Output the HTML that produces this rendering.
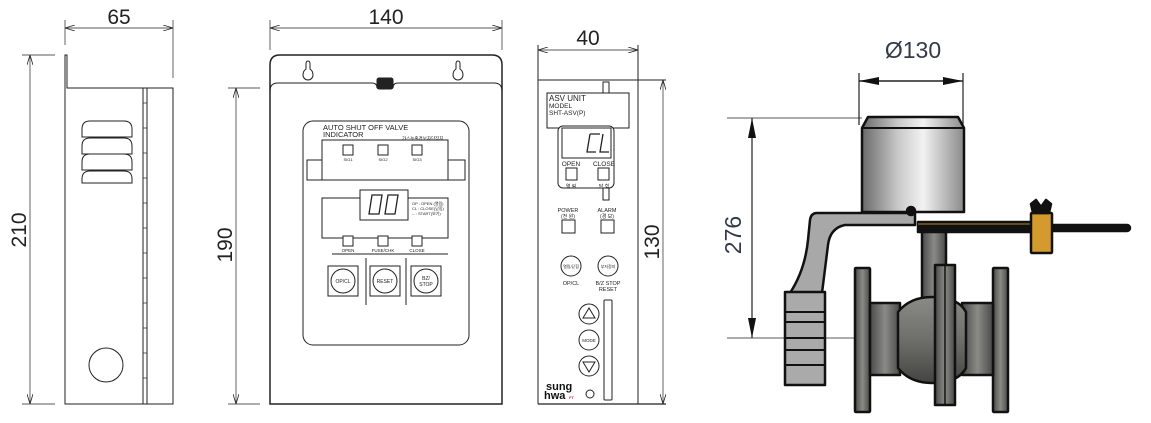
<!DOCTYPE html>
<html><head><meta charset="utf-8"><style>
html,body{margin:0;padding:0;background:#fff;}
svg{display:block;}
text{font-family:"Liberation Sans","Noto Sans CJK KR",sans-serif;fill:#222;}
</style></head><body>
<svg width="1151" height="423" viewBox="0 0 1151 423" xmlns="http://www.w3.org/2000/svg">
<defs>
<marker id="a" viewBox="0 0 10 6" refX="10" refY="3" markerWidth="10" markerHeight="6" orient="auto-start-reverse" markerUnits="userSpaceOnUse"><path d="M0,0 L10,3 L0,6" fill="none" stroke="#222" stroke-width="0.8"/></marker>
<marker id="b" viewBox="0 0 20 8" refX="20" refY="4" markerWidth="20" markerHeight="8" orient="auto-start-reverse" markerUnits="userSpaceOnUse"><path d="M0,0 L20,4 L0,8 Z" fill="#111"/></marker>
<linearGradient id="cyl" x1="0" x2="1" y1="0" y2="0"><stop offset="0" stop-color="#6a6a6a"/><stop offset="0.35" stop-color="#c8c8c8"/><stop offset="0.6" stop-color="#f2f2f2"/><stop offset="1" stop-color="#8a8a8a"/></linearGradient>
<linearGradient id="met" x1="0" x2="1"><stop offset="0" stop-color="#4a4a4a"/><stop offset="0.5" stop-color="#8a8a86"/><stop offset="1" stop-color="#4a4a4a"/></linearGradient>
<linearGradient id="ball" x1="0" x2="0" y1="0" y2="1"><stop offset="0" stop-color="#8a8a86"/><stop offset="0.5" stop-color="#6e6e6a"/><stop offset="1" stop-color="#444442"/></linearGradient>
</defs>
<g fill="none" stroke="#222" stroke-width="1">
<!-- SIDE VIEW -->
<line x1="65" y1="20" x2="65" y2="45" stroke-width="0.7"/>
<line x1="173" y1="20" x2="173" y2="78" stroke-width="0.7"/>
<line x1="65" y1="28" x2="173" y2="28" stroke-width="0.7" marker-start="url(#a)" marker-end="url(#a)"/>
<line x1="22" y1="55" x2="55" y2="55" stroke-width="0.7"/>
<line x1="22" y1="404" x2="55" y2="404" stroke-width="0.7"/>
<line x1="30" y1="55" x2="30" y2="404" stroke-width="0.7" marker-start="url(#a)" marker-end="url(#a)"/>
<path d="M65,55 V404 H173 V88 H67 V55 Z"/>
<line x1="143" y1="88" x2="143" y2="404"/>
<line x1="147" y1="88" x2="147" y2="404"/>
<g stroke-width="0.7">
<line x1="143" y1="103" x2="147" y2="103"/><line x1="143" y1="128" x2="147" y2="128"/><line x1="143" y1="153" x2="147" y2="153"/><line x1="143" y1="178" x2="147" y2="178"/><line x1="143" y1="203" x2="147" y2="203"/><line x1="143" y1="228" x2="147" y2="228"/><line x1="143" y1="253" x2="147" y2="253"/><line x1="143" y1="278" x2="147" y2="278"/><line x1="143" y1="303" x2="147" y2="303"/><line x1="143" y1="328" x2="147" y2="328"/><line x1="143" y1="353" x2="147" y2="353"/><line x1="143" y1="378" x2="147" y2="378"/>
</g>
<path d="M82,137 V129 Q82,121 90,121 H124 Q132,121 132,129 V137 Z"/>
<path d="M82,154 V146 Q82,138 90,138 H124 Q132,138 132,146 V154 Z"/>
<path d="M82,170 V162 Q82,154 90,154 H124 Q132,154 132,162 V170 Z"/>
<path d="M82,183 V179 Q82,171 90,171 H124 Q132,171 132,179 V183 Z"/>
<circle cx="106" cy="365" r="17"/>
<!-- 190 dim -->
<line x1="228" y1="88" x2="260" y2="88" stroke-width="0.7"/>
<line x1="228" y1="404" x2="260" y2="404" stroke-width="0.7"/>
<line x1="236" y1="88" x2="236" y2="404" stroke-width="0.7" marker-start="url(#a)" marker-end="url(#a)"/>
<!-- FRONT -->
<line x1="270" y1="20" x2="270" y2="50" stroke-width="0.7"/>
<line x1="502" y1="20" x2="502" y2="50" stroke-width="0.7"/>
<line x1="270" y1="28" x2="502" y2="28" stroke-width="0.7" marker-start="url(#a)" marker-end="url(#a)"/>
<path d="M270,404 V65 Q270,55 280,55 H492 Q502,55 502,65 V404 Z" stroke-width="1.5"/>
<path d="M270,91 Q270,83 278,83 H372 Q377,83 377,88"/>
<path d="M502,91 Q502,83 494,83 H398 Q393,83 393,88"/>
<rect x="377" y="78" width="16" height="11" fill="#222" rx="2"/>
<path d="M308,61 Q306,61 306,64 V69 Q303,71 303,75 A5,5 0 0 0 313,75 Q313,71 310,69 V64 Q310,61 308,61 Z"/>
<path d="M458,61 Q456,61 456,64 V69 Q453,71 453,75 A5,5 0 0 0 463,75 Q463,71 460,69 V64 Q460,61 458,61 Z"/>
<rect x="303" y="121" width="166" height="224" rx="10"/>
<rect x="322" y="140" width="126" height="40"/>
<rect x="307" y="160" width="15" height="20"/>
<rect x="448" y="160" width="17" height="20"/>
<rect x="343" y="145" width="10" height="10"/><rect x="378" y="145" width="10" height="10"/><rect x="412" y="145" width="10" height="10"/>
<rect x="322" y="198" width="126" height="40"/>
<rect x="360" y="190" width="48" height="30" fill="#fff"/>
<rect x="343" y="236" width="10" height="10" fill="#fff"/><rect x="378" y="236" width="10" height="10" fill="#fff"/><rect x="412" y="236" width="10" height="10" fill="#fff"/>
<line x1="332" y1="254" x2="448" y2="254"/>
<line x1="366" y1="258" x2="366" y2="305"/><line x1="406" y1="258" x2="406" y2="305"/>
<rect x="328" y="266" width="30" height="30"/><circle cx="343" cy="281" r="12"/>
<rect x="370" y="266" width="30" height="30"/><circle cx="385" cy="281" r="12"/>
<rect x="411" y="266" width="30" height="30"/><circle cx="426" cy="281" r="12"/>
<g stroke-width="1.3"><path d="M372,195 H382 L379,214 H369 Z"/><path d="M388,195 H398 L395,214 H385 Z"/></g>
<!-- ASV UNIT -->
<line x1="538" y1="45" x2="538" y2="404"/>
<line x1="638" y1="45" x2="638" y2="404"/>
<line x1="538" y1="50" x2="638" y2="50" stroke-width="0.7" marker-start="url(#a)" marker-end="url(#a)"/>
<line x1="538" y1="80" x2="666" y2="80"/>
<line x1="538" y1="404" x2="666" y2="404" stroke-width="1.3"/>
<line x1="663" y1="80" x2="663" y2="404" stroke-width="0.7" marker-start="url(#a)" marker-end="url(#a)"/>
<rect x="603" y="82" width="6" height="12"/>
<rect x="547" y="93" width="82" height="35" fill="#fff"/>
<rect x="558" y="126" width="56" height="62" rx="5" fill="#fff"/>
<rect x="562" y="128" width="49" height="30"/>
<g stroke-width="1.3"><path d="M590,134 H600 M590,134 L587,152 H596"/><path d="M603,134 L600,152 H609"/></g>
<rect x="566" y="168" width="11" height="12"/><rect x="598" y="168" width="11" height="12"/>
<rect x="603" y="188" width="6" height="12"/>
<rect x="562" y="220" width="13" height="13"/><rect x="601" y="220" width="13" height="13"/>
<circle cx="571" cy="266" r="10"/><circle cx="608" cy="266" r="10"/>
<rect x="604" y="300" width="8" height="100" rx="1"/>
<circle cx="589" cy="314" r="10"/><path d="M583,318 L589,308 L595,318 Z"/>
<circle cx="589" cy="340" r="10"/>
<circle cx="589" cy="366" r="10"/><path d="M583,362 L589,372 L595,362 Z"/>
<circle cx="590" cy="394" r="4"/>
<!-- VALVE dims -->
<line x1="859" y1="73" x2="859" y2="125" stroke-width="1.2"/>
<line x1="963" y1="73" x2="963" y2="125" stroke-width="1.2"/>
<line x1="859" y1="81" x2="963" y2="81" stroke-width="1.5" marker-start="url(#b)" marker-end="url(#b)"/>
<line x1="727" y1="118" x2="862" y2="118" stroke-width="0.8"/>
<line x1="727" y1="338" x2="856" y2="338" stroke-width="0.8"/>
<line x1="752" y1="118" x2="752" y2="338" stroke-width="1.2" marker-start="url(#b)" marker-end="url(#b)"/>
</g>
<!-- valve graphic -->
<g stroke="#111" stroke-width="2.5" stroke-linejoin="round">
<path d="M862,128 L868,117 H958 L964,128 V212 H862 Z" fill="url(#cyl)"/>
<line x1="862" y1="128" x2="964" y2="128" stroke-width="2"/>
<path d="M817,213 H915 V225 H845 Q830,228 828,245 L822,293 H790 Q805,270 808,240 L810,220 Q811,213 817,213 Z" fill="#a8a8a8"/>
<rect x="785" y="292" width="40" height="93" fill="#aaa"/>
<g stroke-width="2"><line x1="785" y1="312" x2="825" y2="312"/><line x1="785" y1="322" x2="825" y2="322"/><line x1="785" y1="338" x2="825" y2="338"/><line x1="785" y1="350" x2="825" y2="350"/><line x1="785" y1="365" x2="825" y2="365"/></g>
<rect x="918" y="222" width="113" height="10" fill="#111"/>
<line x1="918" y1="224" x2="1031" y2="224" stroke="#b08a30" stroke-width="1"/>
<rect x="1050" y="225" width="80" height="6" fill="#111" rx="3"/>
<rect x="922" y="232" width="24" height="68" fill="url(#met)"/>
<rect x="855" y="268" width="15" height="144" fill="url(#met)" rx="1"/>
<rect x="993" y="268" width="15" height="144" fill="url(#met)" rx="1"/>
<rect x="870" y="303" width="30" height="72" fill="url(#met)"/>
<rect x="962" y="303" width="31" height="72" fill="url(#met)"/>
<path d="M898,312 Q910,297 932,297 Q958,297 966,312 V368 Q958,383 932,383 Q910,383 898,368 Z" fill="url(#ball)"/>
<rect x="935" y="265" width="20" height="140" fill="url(#met)"/>
<line x1="945" y1="265" x2="945" y2="405" stroke-width="1.5"/>
<rect x="1031" y="213" width="21" height="40" fill="#d49a2e" rx="1"/>
<path d="M1033,213 L1031,204 L1036,200 L1041,207 L1046,200 L1051,204 L1049,213 Z" fill="#111"/>
<circle cx="911" cy="211" r="4" fill="#111"/>
</g>
<!-- TEXT -->
<g font-size="21" style="fill:#333">
<text x="119" y="24" text-anchor="middle">65</text>
<text x="386" y="24" text-anchor="middle">140</text>
<text x="588" y="45" text-anchor="middle">40</text>
<text transform="translate(26,230) rotate(-90)" text-anchor="middle">210</text>
<text transform="translate(232,245) rotate(-90)" text-anchor="middle">190</text>
<text transform="translate(659,242) rotate(-90)" text-anchor="middle">130</text>
<text x="913" y="58" text-anchor="middle" font-size="23" style="fill:#333a48">Ø130</text>
<text transform="translate(741,235) rotate(-90)" text-anchor="middle" font-size="23" style="fill:#333a48">276</text>
</g>
<g font-size="7">
<text x="323" y="130" font-size="7.5">AUTO SHUT OFF VALVE</text>
<text x="323" y="137" font-size="7.5">INDICATOR</text>
<text x="402" y="140" font-size="4.5">가스누출경보차단장치</text>
<text x="348" y="161" font-size="4" text-anchor="middle">SIG1</text>
<text x="383" y="161" font-size="4" text-anchor="middle">SIG2</text>
<text x="417" y="161" font-size="4" text-anchor="middle">SIG3</text>
<text x="412" y="205" font-size="4">OP : OPEN (열림)</text>
<text x="412" y="210" font-size="4">CL : CLOSE(닫힘)</text>
<text x="412" y="215" font-size="4">-- : START(보기)</text>
<text x="348" y="252" font-size="4.5" text-anchor="middle">OPEN</text>
<text x="383" y="252" font-size="4.5" text-anchor="middle">FUSE/CHK</text>
<text x="417" y="252" font-size="4.5" text-anchor="middle">CLOSE</text>
<text x="343" y="283" font-size="5" text-anchor="middle">OP/CL</text>
<text x="385" y="283" font-size="5" text-anchor="middle">RESET</text>
<text x="426" y="280" font-size="5" text-anchor="middle">BZ/</text>
<text x="426" y="286" font-size="5" text-anchor="middle">STOP</text>
<text x="549" y="101" font-size="8">ASV UNIT</text>
<text x="549" y="108" font-size="6.5">MODEL</text>
<text x="549" y="115" font-size="6.5">SHT-ASV(P)</text>
<text x="571" y="166" font-size="6.5" text-anchor="middle">OPEN</text>
<text x="604" y="166" font-size="6.5" text-anchor="middle">CLOSE</text>
<text x="571" y="188" font-size="5" text-anchor="middle">열 림</text>
<text x="604" y="188" font-size="5" text-anchor="middle">닫 힘</text>
<text x="568" y="212" font-size="5.5" text-anchor="middle">POWER</text>
<text x="568" y="218" font-size="5" text-anchor="middle">(전 원)</text>
<text x="607" y="212" font-size="5.5" text-anchor="middle">ALARM</text>
<text x="607" y="218" font-size="5" text-anchor="middle">(경 보)</text>
<text x="571" y="268" font-size="4" text-anchor="middle">열림/닫힘</text>
<text x="608" y="268" font-size="4" text-anchor="middle">부저정지</text>
<text x="571" y="285" font-size="5.5" text-anchor="middle">OP/CL</text>
<text x="608" y="285" font-size="5.5" text-anchor="middle">B/Z STOP</text>
<text x="608" y="291" font-size="5.5" text-anchor="middle">RESET</text>
<text x="589" y="342" font-size="4.5" text-anchor="middle">MODE</text>
<text x="546" y="390" font-size="11" font-weight="bold" style="fill:#111">sung</text>
<text x="544" y="399" font-size="11" font-weight="bold" style="fill:#111">hwa</text>
<text x="569" y="399" font-size="4" font-weight="bold" style="fill:#d33">FT</text>
</g>
</svg>
</body></html>
